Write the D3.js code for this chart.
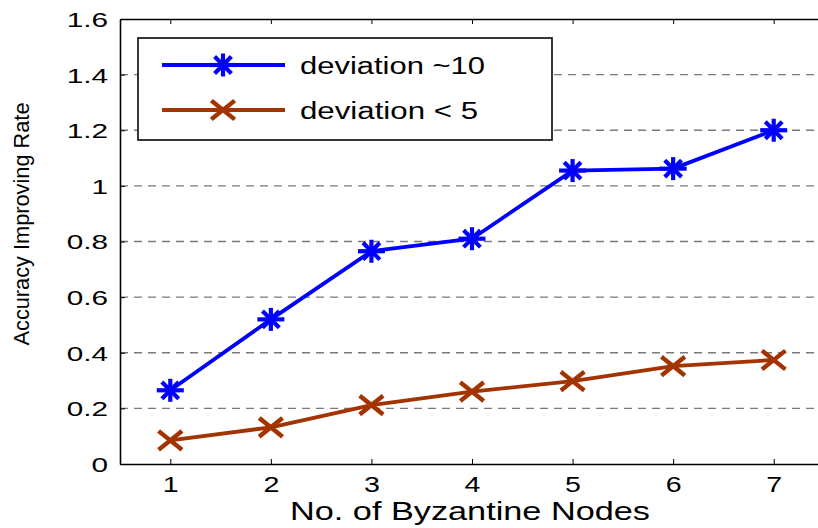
<!DOCTYPE html>
<html>
<head>
<meta charset="utf-8">
<script src="https://cdn.jsdelivr.net/npm/d3@7.9.0/dist/d3.min.js"></script>
<style>
  body { margin: 0; background: #fff; }
  text { font-family: "Liberation Sans", Arial, sans-serif; fill: #000; }
</style>
</head>
<body>
<svg id="chart" width="818" height="528"></svg>
<script>
// data
const nodes = [1, 2, 3, 4, 5, 6, 7];
const dev10 = [0.265, 0.52, 0.765, 0.81, 1.055, 1.062, 1.2];
const dev5 = [0.085, 0.132, 0.212, 0.26, 0.298, 0.352, 0.374];
const yTicks = [0, 0.2, 0.4, 0.6, 0.8, 1, 1.2, 1.4, 1.6];
const seriesNames = ['deviation ~10', 'deviation < 5'];

const svg = d3.select('#chart');
const plotL = 120, plotR = 824, plotT = 19, plotB = 464;

let x = d3.scaleLinear().domain([0.5, 7.5]).range([plotL, plotR]);
let y = d3.scaleLinear().domain([0, 1.6]).range([plotB, plotT]);

// dashed grid
svg.append('g')
  .selectAll('line')
  .data(yTicks.filter(d => d > 0 && d < 1.6))
  .join('line')
  .attr('x1', plotL).attr('x2', plotR)
  .attr('y1', d => y(d)).attr('y2', d => y(d))
  .attr('stroke', '#7a7a7a')
  .attr('stroke-width', 1.4)
  .attr('stroke-dasharray', '8,6');

// axes with inward ticks
const fmt = d => d === 0 ? '0' : (Number.isInteger(d) ? String(d) : d3.format('.1f')(d));
let yAxis = svg.append('g').attr('transform', `translate(${plotL},0)`)
  .call(d3.axisLeft(y).tickValues(yTicks).tickFormat(fmt).tickSizeInner(-5).tickSizeOuter(0));
let xAxis = svg.append('g').attr('transform', `translate(0,${plotB})`)
  .call(d3.axisBottom(x).tickValues(nodes).tickFormat(d3.format('d')).tickSizeInner(-5).tickSizeOuter(0));
let xTop = svg.append('g').attr('transform', `translate(0,${plotT})`)
  .call(d3.axisTop(x).tickValues(nodes).tickFormat('').tickSizeInner(-5).tickSizeOuter(0));

[yAxis, xAxis, xTop].forEach(g => {
  g.select('.domain').attr('stroke', '#000').attr('stroke-width', 1.6);
  g.selectAll('.tick line').attr('stroke', '#000').attr('stroke-width', 1);
  g.selectAll('text').style('font-family', '"Liberation Sans", Arial, sans-serif').attr('fill', '#000');
});
// the original is stretched sideways, so widen the glyphs
yAxis.selectAll('text')
  .style('font-size', '20.5px')
  .attr('x', 0).attr('dy', '0.36em')
  .attr('transform', 'translate(-12,0) scale(1.45,1)');
xAxis.selectAll('text')
  .style('font-size', '22px')
  .attr('y', 0).attr('dy', 0)
  .attr('transform', 'translate(0,28) scale(1.3,1)');

// labels
svg.append('text')
  .attr('x', 470).attr('y', 520)
  .attr('text-anchor', 'middle')
  .attr('textLength', 360)
  .attr('lengthAdjust', 'spacingAndGlyphs')
  .style('font-size', '25px')
  .text('No. of Byzantine Nodes');

svg.append('text')
  .attr('transform', 'translate(29,224) rotate(-90)')
  .attr('text-anchor', 'middle')
  .attr('textLength', 243)
  .attr('lengthAdjust', 'spacingAndGlyphs')
  .style('font-size', '22px')
  .text('Accuracy Improving Rate');

// markers
function star(g, cx, cy, color) {
  const r = 12.5;
  const a = r * Math.cos(Math.PI / 4) * 0.95;
  const segs = [[-r - 1, 0, r + 1, 0], [0, -r + 1, 0, r - 1], [-a, -a, a, a], [-a, a, a, -a]];
  segs.forEach(s => g.append('line')
    .attr('x1', cx + s[0]).attr('y1', cy + s[1]).attr('x2', cx + s[2]).attr('y2', cy + s[3])
    .attr('stroke', color).attr('stroke-width', 4.2));
}
function cross(g, cx, cy, color) {
  const r = 10;
  [[-r, -r * 0.8, r, r * 0.8], [-r, r * 0.8, r, -r * 0.8]].forEach(s => g.append('line')
    .attr('x1', cx + s[0]).attr('y1', cy + s[1]).attr('x2', cx + s[2]).attr('y2', cy + s[3])
    .attr('stroke', color).attr('stroke-width', 4.4).attr('stroke-linecap', 'square'));
}

const colors = ['#0000ff', '#a33300'];
const series = [dev10, dev5];
const markers = [star, cross];

let line = d3.line().x((d, i) => x(nodes[i])).y(d => y(d));

series.forEach((vals, k) => {
  let g = svg.append('g');
  g.append('path').datum(vals)
    .attr('d', line)
    .attr('fill', 'none')
    .attr('stroke', colors[k])
    .attr('stroke-width', 3.8)
    .attr('stroke-linejoin', 'round');
  vals.forEach((v, i) => markers[k](g, x(nodes[i]), y(v), colors[k]));
});

// legend
let legend = svg.append('g');
legend.append('rect')
  .attr('x', 138).attr('y', 38).attr('width', 414).attr('height', 102)
  .attr('fill', '#fff').attr('stroke', '#222').attr('stroke-width', 1.8);
const legendWidths = [185, 178];
seriesNames.forEach((name, k) => {
  const ly = 65 + k * 45;
  legend.append('line')
    .attr('x1', 162).attr('x2', 285).attr('y1', ly).attr('y2', ly)
    .attr('stroke', colors[k]).attr('stroke-width', 3.8);
  markers[k](legend, 223, ly, colors[k]);
  legend.append('text')
    .attr('x', 300).attr('y', ly + 9)
    .attr('textLength', legendWidths[k])
    .attr('lengthAdjust', 'spacingAndGlyphs')
    .style('font-size', '23.5px')
    .text(name);
});
</script>
</body>
</html>
